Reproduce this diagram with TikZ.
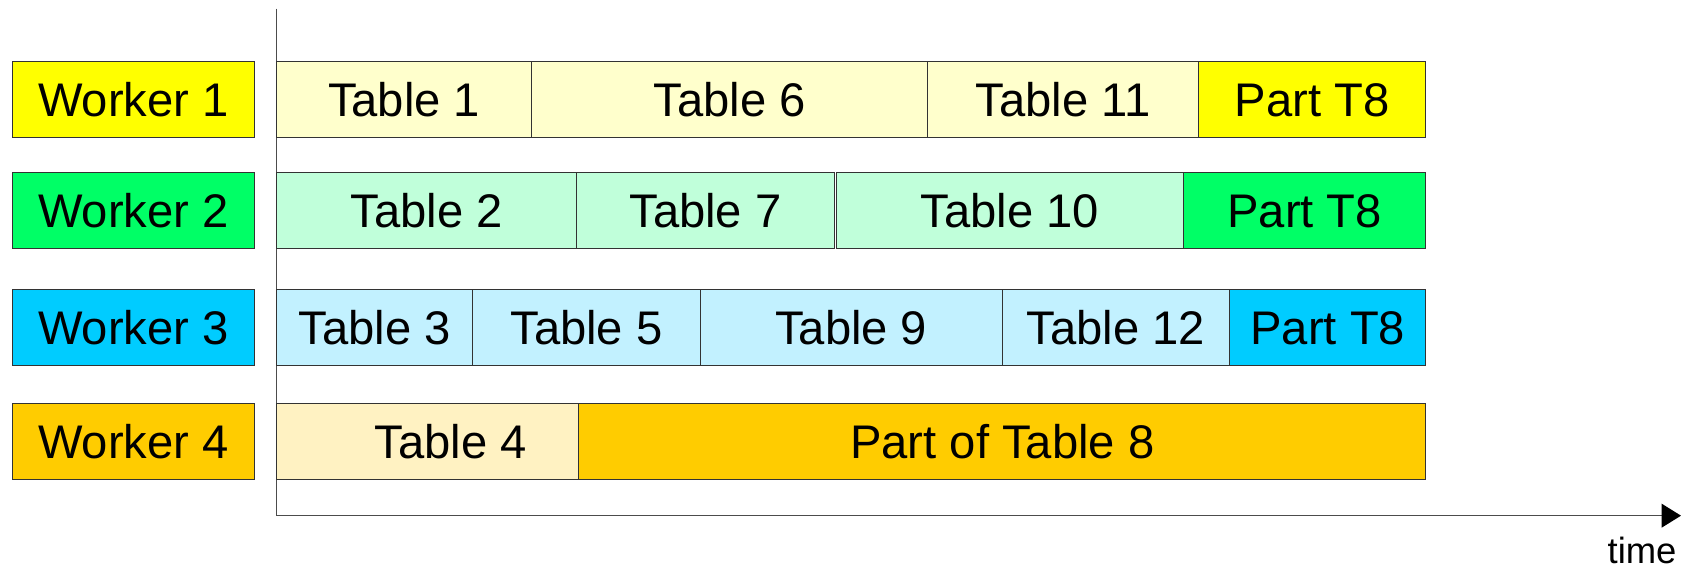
\documentclass[tikz,border=0pt]{standalone}
\usepackage{fontspec}
\setmainfont{Liberation Sans}
\usetikzlibrary{arrows.meta}
\definecolor{wyel}{HTML}{FFFF00}
\definecolor{tyel}{HTML}{FFFFCC}
\definecolor{wgrn}{HTML}{00FF66}
\definecolor{tgrn}{HTML}{C0FFDA}
\definecolor{wblu}{HTML}{00CCFF}
\definecolor{tblu}{HTML}{C2F1FF}
\definecolor{wora}{HTML}{FFCC00}
\definecolor{tora}{HTML}{FFF2C2}
\tikzset{
  cell/.style={draw=black!80, line width=1pt, inner sep=0pt, outer sep=0pt,
    minimum height=71pt, text height=31.5pt, text depth=0pt,
    font=\fontsize{44}{52}\selectfont},
  axisline/.style={draw=black!70, line width=1.4pt},
}
\newcommand{\cellbox}[6]{% name, x1, x2, yc, fill, text
  \pgfmathsetmacro{\cw}{#3-#2}
  \pgfmathsetmacro{\cx}{(#2+#3)/2}
  \node[cell, fill=#5, minimum width=\cw pt] (#1) at (\cx,#4) {#6};
}
\begin{document}
\begin{tikzpicture}[x=1pt,y=-1pt]
\useasboundingbox (0,0) rectangle (1568,531);
% axes
\coordinate (o) at (258,481);
\coordinate (top) at (258,8);
\coordinate (tend) at (1568,481);
\draw[axisline] (top) -- (o);
\draw[axisline, -{Triangle[length=18pt,width=22pt,color=black]}] (o) -- (tend);
\node[anchor=base east, inner sep=0pt, font=\fontsize{34}{40}\selectfont] (time) at (1564,526) {time};
% workers
\cellbox{w1}{12}{237}{92.5}{wyel}{Worker 1}
\cellbox{w2}{12}{237}{196.5}{wgrn}{Worker 2}
\cellbox{w3}{12}{237}{305.5}{wblu}{Worker 3}
\cellbox{w4}{12}{237}{411.5}{wora}{Worker 4}
% row 1
\cellbox{t1}{258}{496}{92.5}{tyel}{Table 1}
\cellbox{t6}{496}{865}{92.5}{tyel}{Table 6}
\cellbox{t11}{865}{1118}{92.5}{tyel}{Table 11}
\cellbox{p1}{1118}{1330}{92.5}{wyel}{Part T8}
% row 2
\cellbox{t2}{258}{538}{196.5}{tgrn}{Table 2}
\cellbox{t7}{538}{778}{196.5}{tgrn}{Table 7}
\cellbox{t10}{780}{1104}{196.5}{tgrn}{Table 10}
\cellbox{p2}{1104}{1330}{196.5}{wgrn}{Part T8}
% row 3
\cellbox{t3}{258}{441}{305.5}{tblu}{Table 3}
\cellbox{t5}{441}{653}{305.5}{tblu}{Table 5}
\cellbox{t9}{653}{935}{305.5}{tblu}{Table 9}
\cellbox{t12}{935}{1147}{305.5}{tblu}{Table 12}
\cellbox{p3}{1147}{1330}{305.5}{wblu}{Part T8}
% row 4
\cellbox{t4}{258}{583}{411.5}{tora}{Table 4}
\cellbox{p4}{540}{1330}{411.5}{wora}{Part of Table 8}
\end{tikzpicture}
\end{document}
